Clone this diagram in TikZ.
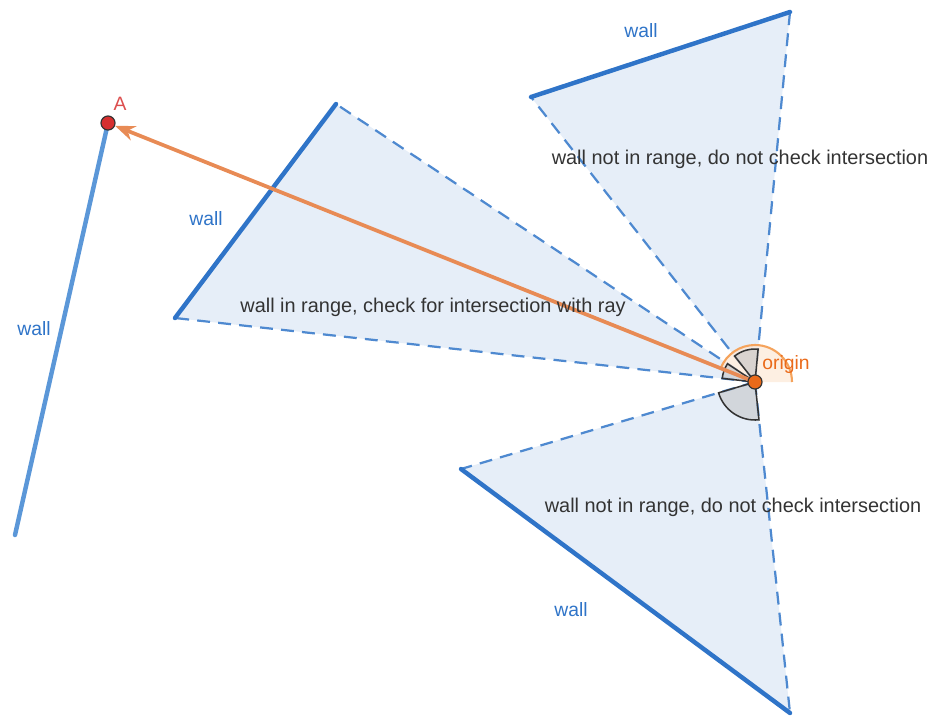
\documentclass[tikz,border=0pt]{standalone}
\usepackage{fontspec}
\setmainfont{Liberation Sans}
\usetikzlibrary{arrows.meta}
\definecolor{wallblue}{HTML}{2F74C8}
\definecolor{leftblue}{HTML}{5B97D8}
\definecolor{fillblue}{HTML}{E6EEF8}
\definecolor{rayorange}{HTML}{E88B55}
\definecolor{arcorange}{HTML}{F5A35C}
\definecolor{dotorange}{HTML}{EA6A1A}
\definecolor{dotred}{HTML}{D62F2F}
\definecolor{txtgrey}{HTML}{333333}

\tikzset{
  wedge/.style={fill=fillblue},
  sight/.style={draw=wallblue!85,line width=1.9pt,dash pattern=on 11pt off 7pt},
  wallline/.style={draw=wallblue,line width=3.8pt,line cap=round},
  walltag/.style={text=wallblue,font=\fontsize{16.5}{19}\selectfont},
  note/.style={text=txtgrey,font=\fontsize{17}{20}\selectfont},
  anglemark/.style={fill=gray!50,fill opacity=0.5,draw=gray!40!black,line width=1.3pt},
  pointdot/.style={circle,draw=black!80,line width=1pt,inner sep=0pt,minimum size=12pt}
}

\begin{document}
\begin{tikzpicture}[x=0.03cm,y=-0.03cm]
\useasboundingbox (0,0) rectangle (935,717);
% points
\coordinate (o) at (755,382);
\coordinate (t1) at (531,97);
\coordinate (t2) at (790,12);
\coordinate (m1) at (336,104);
\coordinate (m2) at (175,318);
\coordinate (b1) at (461,469);
\coordinate (b2) at (790,713);
\coordinate (pa) at (108,123);
\coordinate (lw) at (15,535);
% fields of view
\fill[wedge] (o) -- (t1) -- (t2) -- cycle;
\fill[wedge] (o) -- (m1) -- (m2) -- cycle;
\fill[wedge] (o) -- (b1) -- (b2) -- cycle;
\draw[sight] (o) -- (t1);
\draw[sight] (o) -- (t2);
\draw[sight] (o) -- (m1);
\draw[sight] (o) -- (m2);
\draw[sight] (o) -- (b1);
\draw[sight] (o) -- (b2);
% walls
\draw[wallline] (t1) -- (t2);
\draw[wallline] (m1) -- (m2);
\draw[wallline] (b1) -- (b2);
\draw[draw=leftblue,line width=3.8pt,line cap=round] (pa) -- (lw);
% angles (y axis points down, so angles are negated)
\fill[arcorange!25,fill opacity=0.7] (o) -- ++(0:37) arc[start angle=0,end angle=-158.2,radius=37] -- cycle;
\draw[anglemark] (o) -- ++(-84.6:33) arc[start angle=-84.6,end angle=-128.2,radius=33] -- cycle;
\draw[anglemark] (o) -- ++(-146.4:33) arc[start angle=-146.4,end angle=-173.7,radius=33] -- cycle;
\draw[anglemark] (o) -- ++(-196.5:38) arc[start angle=-196.5,end angle=-276,radius=38] -- cycle;
\draw[arcorange,line width=1.8pt] (o) ++(0:37) arc[start angle=0,end angle=-158.2,radius=37];
% ray
\node[pointdot,fill=dotred] (a) at (pa) {};
\draw[-{Stealth[length=17pt,width=13pt]},rayorange,line width=3.2pt] (o) -- (a);
\node[pointdot,fill=dotorange] (orig) at (o) {};
% labels
\node[text=dotred!85,font=\fontsize{16.5}{19}\selectfont] (alabel) at (120,104) {A};
\node[text=dotorange,font=\fontsize{16.5}{19}\selectfont] (olabel) at (786,364) {origin};
\node[walltag] (w1) at (641,31) {wall};
\node[walltag] (w2) at (206,219) {wall};
\node[walltag] (w3) at (34,329) {wall};
\node[walltag] (w4) at (571,610) {wall};
\node[note] (n1) at (740,159) {wall not in range, do not check intersection};
\node[note] (n2) at (433,307) {wall in range, check for intersection with ray};
\node[note] (n3) at (733,507) {wall not in range, do not check intersection};
\end{tikzpicture}
\end{document}
